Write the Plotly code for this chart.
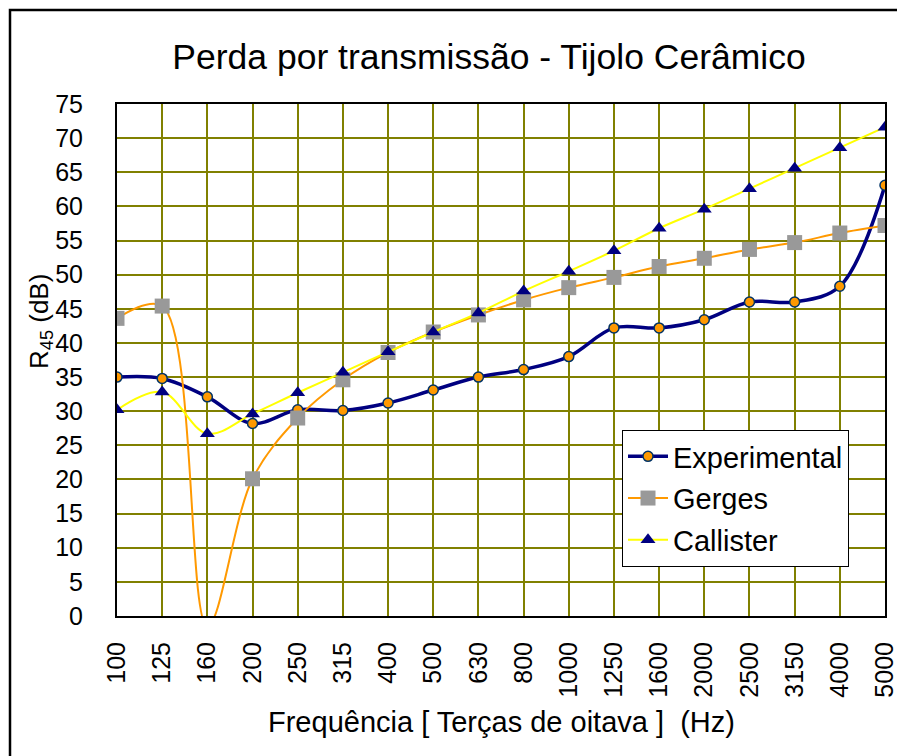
import plotly.graph_objects as go

# Third-octave band centre frequencies (Hz)
freq_labels = ["100", "125", "160", "200", "250", "315", "400", "500", "630",
               "800", "1000", "1250", "1600", "2000", "2500", "3150", "4000", "5000"]

# Sound reduction index R45 (dB) per band
experimental = [35.0, 34.8, 32.1, 28.2, 30.2, 30.1, 31.2, 33.1, 35.0,
                36.1, 38.0, 42.2, 42.2, 43.4, 46.0, 46.0, 48.3, 63.1]
gerges = [43.6, 45.4, -1.5, 20.1, 29.0, 34.6, 38.6, 41.6, 44.1,
          46.3, 48.1, 49.6, 51.2, 52.4, 53.7, 54.7, 56.1, 57.2]
callister = [30.2, 32.8, 26.7, 29.6, 32.7, 35.7, 38.7, 41.6, 44.4,
             47.6, 50.5, 53.5, 56.8, 59.6, 62.6, 65.6, 68.6, 71.6]

FONT = "Liberation Sans, Arial, sans-serif"
GRID = "#808000"

# Plot-area geometry in pixels, used to place free-standing labels
L, R, T, B = 117, 885, 104, 616
W, H = R - L, B - T


def px_x(x):
    return (x - L) / W


def px_y(y):
    return (B - y) / H


fig = go.Figure()

fig.add_trace(go.Scatter(
    x=freq_labels, y=experimental, name="Experimental", legendgroup="exp",
    mode="lines+markers", line=dict(color="#000080", width=3.5, shape="spline", smoothing=1),
    marker=dict(symbol="circle", size=10, color="#FF9900", line=dict(color="#003366", width=1.5)),
))
fig.add_trace(go.Scatter(
    x=freq_labels, y=gerges, name="Gerges", legendgroup="ger",
    mode="lines+markers", line=dict(color="#FF9900", width=2, shape="spline", smoothing=1),
    marker=dict(symbol="square", size=15, color="#999999", line=dict(width=0)),
))
fig.add_trace(go.Scatter(
    x=freq_labels, y=callister, name="Callister", legendgroup="cal",
    mode="lines+markers", line=dict(color="#FFFF00", width=2, shape="spline", smoothing=1),
    marker=dict(symbol="triangle-up", size=13, color="#000080", line=dict(width=0)),
))

# Outer chart frame (runs past the right and bottom page edges)
fig.add_shape(type="rect", xref="paper", yref="paper",
              x0=px_x(10), x1=px_x(930), y0=px_y(790), y1=px_y(10),
              line=dict(color="black", width=2.5), fillcolor="rgba(0,0,0,0)", layer="below")

# Axis titles
fig.add_annotation(
    text="R<sub>45</sub> (dB)", textangle=-90, showarrow=False,
    xref="paper", yref="paper", x=px_x(40), y=px_y(322),
    xanchor="center", yanchor="middle", font=dict(family=FONT, size=26, color="black"),
)
fig.add_annotation(
    text="Frequência [ Terças de oitava ]  (Hz)", showarrow=False,
    xref="paper", yref="paper", x=px_x(501), y=px_y(722),
    xanchor="center", yanchor="middle", font=dict(family=FONT, size=29, color="black"),
)

fig.update_layout(
    width=897, height=756,
    margin=dict(l=L, r=897 - R, t=T, b=756 - B, autoexpand=False),
    paper_bgcolor="white", plot_bgcolor="white",
    font=dict(family=FONT, color="black"),
    title=dict(text="Perda por transmissão - Tijolo Cerâmico",
               x=px_x(489), xref="paper", xanchor="center",
               y=1 - 57 / 756, yref="container", yanchor="middle",
               font=dict(family=FONT, size=35.5, color="black")),
    xaxis=dict(
        type="category", range=[0, 17], tickangle=-90, automargin=False,
        tickfont=dict(family=FONT, size=25, color="black"),
        showgrid=True, gridcolor=GRID, gridwidth=1.5,
        showline=True, linecolor="black", linewidth=2, mirror=True,
        ticks="", ticklabelstandoff=14,
    ),
    yaxis=dict(
        range=[0, 75], dtick=5, tick0=0, automargin=False,
        tickfont=dict(family=FONT, size=25, color="black"),
        showgrid=True, gridcolor=GRID, gridwidth=1.5,
        showline=True, linecolor="black", linewidth=2, mirror=True,
        ticks="", ticklabelstandoff=27, zeroline=False,
    ),
    legend=dict(
        x=px_x(622), y=px_y(430), xanchor="left", yanchor="top",
        bgcolor="white", bordercolor="black", borderwidth=1,
        font=dict(family=FONT, size=29, color="black"),
        itemwidth=40, tracegroupgap=1, traceorder="grouped",
    ),
    showlegend=True,
)

fig.write_html("out.html")
